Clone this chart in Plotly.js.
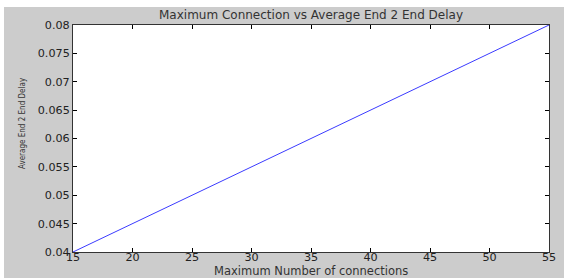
<!DOCTYPE html>
<html><head><meta charset="utf-8">
<script src="https://cdn.plot.ly/plotly-3.0.1.min.js"></script>
<style>
html,body{margin:0;padding:0;background:#ffffff;width:564px;height:278px;overflow:hidden;}
#chart{position:absolute;left:4px;top:7px;width:560px;height:271px;}
</style></head>
<body><div id="chart"></div>
<script>
const connections = [15, 25, 35, 45, 55];
const delay = [0.04, 0.05, 0.06, 0.07, 0.08];
const xTicks = [15, 20, 25, 30, 35, 40, 45, 50, 55];
const yTicks = [0.04, 0.045, 0.05, 0.055, 0.06, 0.065, 0.07, 0.075, 0.08];
const titleText = 'Maximum Connection vs Average End 2 End Delay';
const xTitleText = 'Maximum Number of connections';
const yTitleText = 'Average End 2 End Delay';

const wideFont = 'DejaVu Sans, Verdana, sans-serif';
const tickFont = {family: wideFont, size: 11.2, color: '#222222'};
const trace = {
  x: connections, y: delay, type: 'scatter', mode: 'lines',
  line: {color: '#3b3bff', width: 1}, hoverinfo: 'none'
};
const layout = {
  width: 560, height: 271,
  paper_bgcolor: '#cccccc', plot_bgcolor: '#ffffff',
  margin: {l: 69, r: 15, t: 18, b: 26, pad: 0},
  showlegend: false,
  xaxis: {
    range: [15, 55], tickvals: xTicks, ticktext: xTicks.map(String),
    ticks: 'inside', ticklen: 4, tickcolor: '#000000', tickwidth: 1,
    showline: true, linecolor: '#333333', linewidth: 1, mirror: 'allticks',
    showgrid: false, zeroline: false, tickfont: tickFont, ticklabelstandoff: -5
  },
  yaxis: {
    range: [0.04, 0.08], tickvals: yTicks, ticktext: yTicks.map(v => String(v)),
    ticks: 'inside', ticklen: 4, tickcolor: '#000000', tickwidth: 1,
    showline: true, linecolor: '#333333', linewidth: 1, mirror: 'allticks',
    showgrid: false, zeroline: false, tickfont: tickFont
  },
  annotations: [
    {text: titleText, xref: 'paper', yref: 'paper', x: 0.5, y: 1, xanchor: 'center', yanchor: 'middle', yshift: 10, showarrow: false,
      font: {family: wideFont, size: 12, color: '#333333'}},
    {text: xTitleText, xref: 'paper', yref: 'paper', x: 0.5, y: 0, xanchor: 'center', yanchor: 'middle', yshift: -19, showarrow: false,
      font: {family: wideFont, size: 11.5, color: '#333333'}},
    {text: yTitleText, xref: 'paper', yref: 'paper', x: 0, y: 0.568, xanchor: 'center', yanchor: 'middle', xshift: -51, textangle: -90, showarrow: false,
      font: {family: 'DejaVu Sans Condensed, Liberation Sans Narrow, sans-serif', size: 8, color: '#333333'}}
  ]
};
Plotly.newPlot('chart', [trace], layout, {staticPlot: true, displayModeBar: false});
</script></body></html>
